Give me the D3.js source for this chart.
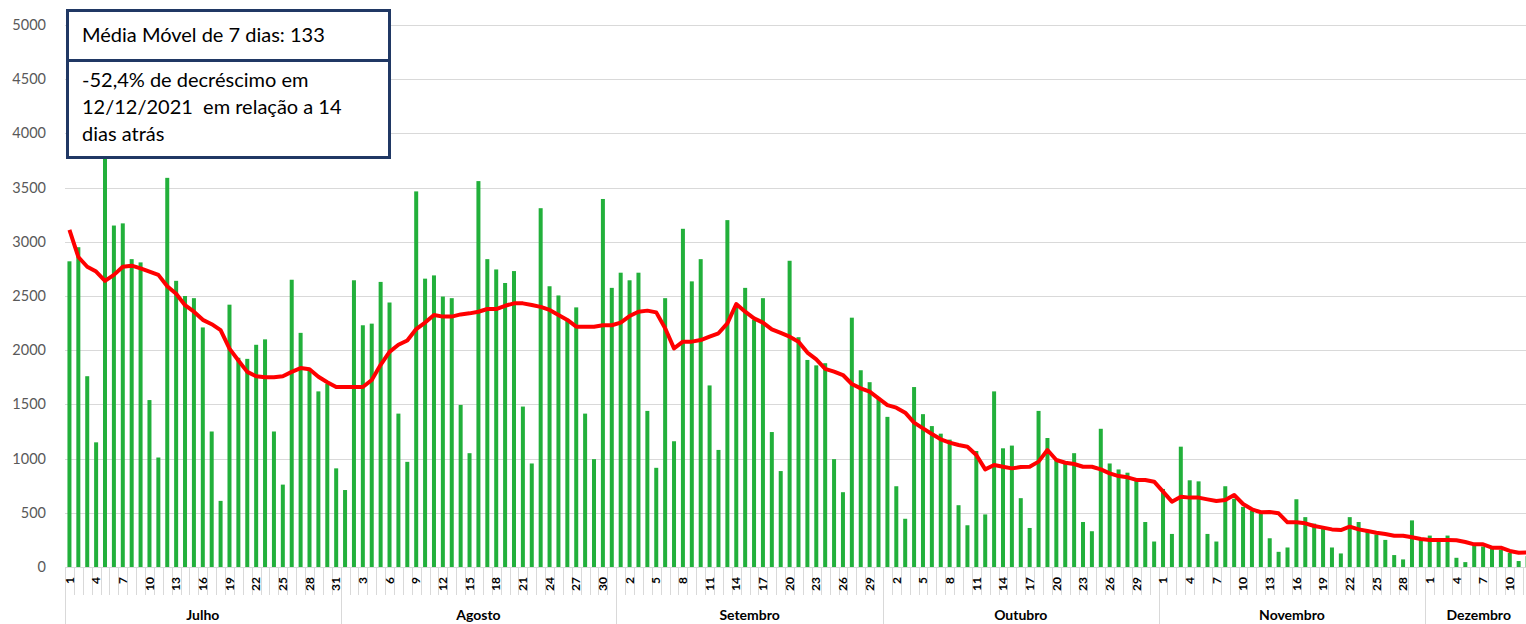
<!DOCTYPE html>
<html>
<head>
<meta charset="utf-8">
<script src="https://cdn.jsdelivr.net/npm/d3@7"></script>
<style>
  html, body { margin: 0; padding: 0; background: #fff; }
  svg { display: block; font-family: Lato, "Open Sans", sans-serif; }
</style>
</head>
<body>
<svg id="chart" width="1526" height="624"></svg>
<script>
// months shown on the category axis and their day counts
var months = ["Julho", "Agosto", "Setembro", "Outubro", "Novembro", "Dezembro"];
var monthDays = [31, 31, 30, 31, 30, 12];

// daily counts, one list per month
var julho = [2820, 2950, 1760, 1150, 3900, 3150, 3170, 2840, 2810, 1540, 1010, 3590, 2640, 2500, 2480, 2210,
  1250, 610, 2420, 1930, 1920, 2050, 2100, 1250, 760, 2650, 2160, 1820, 1620, 1690, 910];
var agosto = [710, 2645, 2230, 2245, 2630, 2440, 1415, 970, 3465, 2660, 2690, 2495, 2480, 1495, 1050, 3560,
  2840, 2745, 2620, 2730, 1480, 955, 3310, 2590, 2505, 2280, 2395, 1415, 995, 3395, 2575];
var setembro = [2715, 2645, 2715, 1440, 915, 2480, 1160, 3120, 2635, 2840, 1675, 1080, 3200, 2400, 2575, 2280,
  2480, 1245, 885, 2825, 2120, 1910, 1860, 1880, 995, 690, 2300, 1815, 1705, 1560];
var outubro = [1385, 745, 445, 1660, 1410, 1300, 1230, 1175, 570, 385, 1070, 485, 1620, 1095, 1120, 635,
  360, 1440, 1190, 990, 970, 1050, 415, 330, 1275, 955, 900, 870, 800, 415, 235];
var novembro = [720, 305, 1110, 800, 790, 305, 235, 745, 630, 555, 520, 490, 265, 140, 180, 625,
  460, 400, 375, 180, 125, 460, 415, 330, 300, 250, 110, 70, 430, 250];
var dezembro = [290, 250, 290, 85, 45, 200, 190, 170, 160, 130, 55, 100];

// 7 day moving average
var mediaMovel = [
  3110, 2860, 2770, 2725, 2640, 2695, 2770, 2780, 2755, 2725, 2695, 2590, 2520, 2415, 2355, 2280,
  2240, 2185, 2015, 1905, 1800, 1760, 1750, 1750, 1760, 1800, 1835, 1825, 1755, 1705, 1660,
  1660, 1660, 1660, 1725, 1865, 1985, 2050, 2090, 2195, 2255, 2325, 2310, 2310, 2330, 2340, 2355,
  2380, 2380, 2410, 2432, 2432, 2417, 2400, 2371, 2325, 2279, 2217, 2217, 2217, 2230, 2230,
  2254, 2315, 2355, 2365, 2349, 2202, 2017, 2079, 2079, 2094, 2125, 2156, 2248, 2426, 2355, 2294,
  2254, 2193, 2160, 2125, 2079, 1978, 1916, 1827, 1802, 1771, 1688, 1648, 1617, 1556,
  1494, 1470, 1424, 1332, 1279, 1227, 1178, 1147, 1125, 1110, 1033, 901, 941, 925, 910, 922,
  925, 972, 1079, 987, 962, 950, 925, 925, 901, 864, 839, 827, 803, 803, 787,
  695, 603, 649, 640, 640, 624, 609, 618, 664, 581, 532, 505, 507, 495, 412, 412,
  403, 378, 363, 347, 341, 372, 347, 332, 316, 304, 289, 289, 274, 258,
  249, 249, 249, 246, 231, 209, 209, 178, 178, 148, 132, 133];

var yTicks = [0, 500, 1000, 1500, 2000, 2500, 3000, 3500, 4000, 4500, 5000];

var boxTitle = "Média Móvel de 7 dias: 133";
var boxLines = ["-52,4% de decréscimo em", "12/12/2021  em relação a 14", "dias atrás"];

var casos = [].concat(julho, agosto, setembro, outubro, novembro, dezembro);

// day label + month index for every category
var days = [];
monthDays.forEach(function(n, m) {
  d3.range(1, n + 1).forEach(function(d) { days.push({day: d, month: m}); });
});

var svg = d3.select("#chart");

var x = d3.scaleBand()
    .domain(d3.range(casos.length))
    .range([65, 1532]);

var y = d3.scaleLinear()
    .domain([0, 5000])
    .range([567, 25]);

var bw = x.bandwidth();
function cx(i) { return x(i) + bw / 2; }

// gridlines
svg.append("g")
  .selectAll("line")
  .data(yTicks)
  .join("line")
    .attr("x1", 65).attr("x2", 1526)
    .attr("y1", function(d) { return Math.round(y(d)) + 0.5; })
    .attr("y2", function(d) { return Math.round(y(d)) + 0.5; })
    .attr("stroke", "#d9d9d9")
    .attr("stroke-width", 1);

svg.append("g")
  .selectAll("text")
  .data(yTicks)
  .join("text")
    .attr("x", 46)
    .attr("y", function(d) { return y(d); })
    .attr("dy", "0.35em")
    .attr("text-anchor", "end")
    .attr("fill", "#595959")
    .attr("font-size", 14.5)
    .text(function(d) { return d; });

// bars
svg.append("g")
  .selectAll("rect")
  .data(casos)
  .join("rect")
    .attr("x", function(d, i) { return cx(i) - 2; })
    .attr("y", function(d) { return y(d); })
    .attr("width", 4)
    .attr("height", function(d) { return y(0) - y(d); })
    .attr("fill", "#22b03b");

// category axis: day ticks, month separators, labels
var axis = svg.append("g");

axis.selectAll("line.day")
  .data(d3.range(casos.length + 1))
  .join("line")
    .attr("class", "day")
    .attr("x1", function(i) { return Math.round(x(i) || 1532) + 0.5; })
    .attr("x2", function(i) { return Math.round(x(i) || 1532) + 0.5; })
    .attr("y1", 567)
    .attr("y2", 595)
    .attr("stroke", "#d9d9d9");

var starts = [];
monthDays.reduce(function(acc, n) { starts.push(acc); return acc + n; }, 0);

axis.selectAll("line.month")
  .data(starts)
  .join("line")
    .attr("class", "month")
    .attr("x1", function(s) { return Math.round(x(s)) + 0.5; })
    .attr("x2", function(s) { return Math.round(x(s)) + 0.5; })
    .attr("y1", 567)
    .attr("y2", 624)
    .attr("stroke", "#d9d9d9");

axis.append("line")
    .attr("x1", 65).attr("x2", 1526)
    .attr("y1", 567.5).attr("y2", 567.5)
    .attr("stroke", "#d9d9d9");

axis.selectAll("text.day")
  .data(days.filter(function(d, i) { return i % 3 === 0; }))
  .join("text")
    .attr("class", "day")
    .attr("transform", function(d) {
      return "translate(" + cx(days.indexOf(d)) + ",577) rotate(-90)";
    })
    .attr("dy", "0.35em")
    .attr("text-anchor", "end")
    .attr("font-size", 12)
    .attr("font-weight", "bold")
    .attr("fill", "#000")
    .text(function(d) { return d.day; });

axis.selectAll("text.month")
  .data(months)
  .join("text")
    .attr("class", "month")
    .attr("x", function(m, i) { return (x(starts[i]) + x(starts[i]) + monthDays[i] * bw) / 2; })
    .attr("y", 620)
    .attr("text-anchor", "middle")
    .attr("font-size", 14)
    .attr("font-weight", "bold")
    .attr("fill", "#000")
    .text(function(m) { return m; });

// moving average line
var line = d3.line()
    .x(function(d, i) { return cx(i); })
    .y(function(d) { return y(d); });

svg.append("path")
    .datum(mediaMovel)
    .attr("d", line)
    .attr("fill", "none")
    .attr("stroke", "#ff0000")
    .attr("stroke-width", 4)
    .attr("stroke-linejoin", "round");

// annotation box
var box = svg.append("g");
box.append("rect")
    .attr("x", 67.5).attr("y", 10.5)
    .attr("width", 322).attr("height", 147)
    .attr("fill", "#fff")
    .attr("stroke", "#203864")
    .attr("stroke-width", 3);
box.append("line")
    .attr("x1", 67.5).attr("x2", 389.5)
    .attr("y1", 60.5).attr("y2", 60.5)
    .attr("stroke", "#203864")
    .attr("stroke-width", 3);
box.append("text")
    .attr("x", 82).attr("y", 42)
    .attr("font-size", 20)
    .attr("fill", "#000")
    .text(boxTitle);
box.selectAll("text.l")
  .data(boxLines)
  .join("text")
    .attr("class", "l")
    .attr("x", 82)
    .attr("y", function(d, i) { return 87 + i * 27; })
    .attr("font-size", 20)
    .attr("fill", "#000")
    .style("white-space", "pre")
    .text(function(d) { return d; });
</script>
</body>
</html>
